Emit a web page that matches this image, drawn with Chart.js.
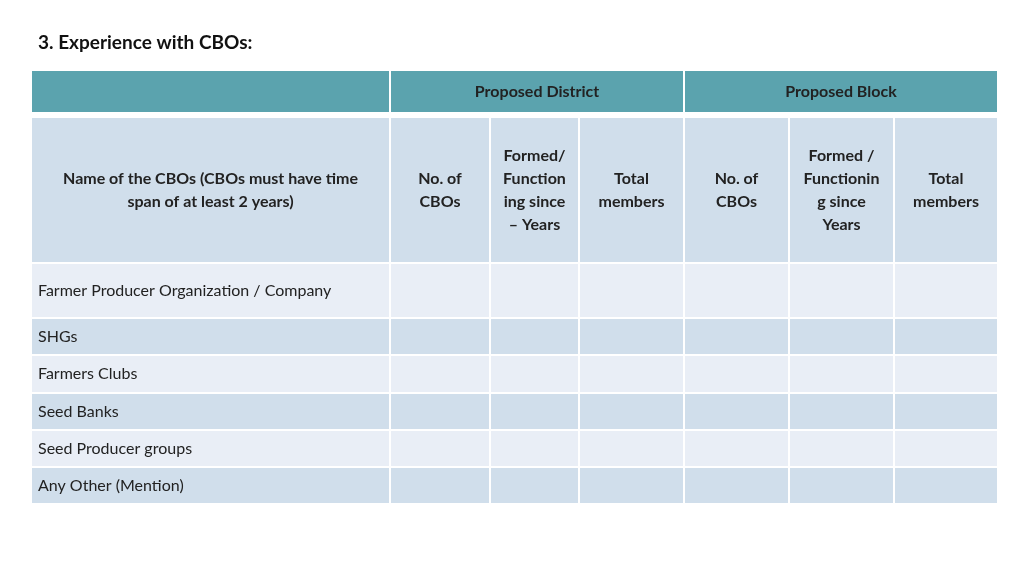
<!DOCTYPE html>
<html><head><meta charset="utf-8">
<script src="https://cdn.jsdelivr.net/npm/chart.js@4"></script>
<style>html,body{margin:0;padding:0;background:#fff}#w{width:1024px;height:576px}</style>
</head><body><div id="w"><canvas id="c"></canvas></div>
<script>
const title = "3. Experience with CBOs:";
const groupHeaders = ["", "Proposed District", "Proposed Block"];
const columnHeaders = [
  ["Name of the CBOs (CBOs must have time", "span of at least 2 years)"],
  ["No. of", "CBOs"],
  ["Formed/", "Function", "ing since", "\u2013 Years"],
  ["Total", "members"],
  ["No. of", "CBOs"],
  ["Formed /", "Functionin", "g since", "Years"],
  ["Total", "members"]
];
const rowLabels = ["Farmer Producer Organization / Company", "SHGs", "Farmers Clubs", "Seed Banks", "Seed Producer groups", "Any Other (Mention)"];
const rowValues = [
  ["", "", "", "", "", ""], ["", "", "", "", "", ""], ["", "", "", "", "", ""],
  ["", "", "", "", "", ""], ["", "", "", "", "", ""], ["", "", "", "", "", ""]
];

// layout (axis units = pixels)
const colEdges = [31, 390, 490, 579, 684, 789, 894, 998];
const groupSpans = [[0,1],[1,4],[4,7]];
const rowEdges = [70, 113, 117, 263, 318, 355, 393, 430, 467, 504];
const C = {teal:"#5BA3AE", head:"#D0DEEB", light:"#E9EEF6", dark:"#D0DEEB", text:"#222"};
const FONT = "Lato, 'Open Sans', sans-serif";

const tablePlugin = {
  id: "table",
  afterDraw(chart) {
    const ctx = chart.ctx, X = v => chart.scales.x.getPixelForValue(v), Y = v => chart.scales.y.getPixelForValue(v);
    const cell = (x0,x1,y0,y1,fill) => {
      ctx.fillStyle = fill;
      ctx.fillRect(X(x0), Y(y0), X(x1)-X(x0), Y(y1)-Y(y0));
      ctx.strokeStyle = "#fff"; ctx.lineWidth = 2;
      ctx.strokeRect(X(x0), Y(y0), X(x1)-X(x0), Y(y1)-Y(y0));
    };
    ctx.save();
    ctx.fillStyle = "#111"; ctx.font = "bold 19px " + FONT; ctx.textBaseline = "middle"; ctx.textAlign = "left";
    ctx.fillText(title, X(38), Y(43));
    // group header
    groupSpans.forEach((s, i) => {
      cell(colEdges[s[0]], colEdges[s[1]], rowEdges[0], rowEdges[1], C.teal);
      ctx.fillStyle = "#222"; ctx.font = "bold 16px " + FONT; ctx.textAlign = "center";
      ctx.fillText(groupHeaders[i], (X(colEdges[s[0]]) + X(colEdges[s[1]])) / 2, (Y(rowEdges[0]) + Y(rowEdges[1])) / 2);
    });
    // column headers
    columnHeaders.forEach((lines, i) => {
      cell(colEdges[i], colEdges[i+1], rowEdges[2], rowEdges[3], C.head);
      ctx.fillStyle = C.text; ctx.font = "bold 16px " + FONT; ctx.textAlign = "center";
      const cx = (X(colEdges[i]) + X(colEdges[i+1])) / 2, cy = (Y(rowEdges[2]) + Y(rowEdges[3])) / 2;
      lines.forEach((t, k) => ctx.fillText(t, cx, cy + (k - (lines.length - 1) / 2) * 23));
    });
    // body rows
    rowLabels.forEach((lab, r) => {
      const y0 = rowEdges[3 + r], y1 = rowEdges[4 + r], fill = r % 2 === 0 ? C.light : C.dark;
      for (let i = 0; i < 7; i++) cell(colEdges[i], colEdges[i+1], y0, y1, fill);
      ctx.fillStyle = C.text; ctx.font = "16px " + FONT; ctx.textAlign = "left";
      ctx.fillText(lab, X(38), (Y(y0) + Y(y1)) / 2);
      ctx.textAlign = "center";
      rowValues[r].forEach((v, i) => ctx.fillText(v, (X(colEdges[i+1]) + X(colEdges[i+2])) / 2, (Y(y0) + Y(y1)) / 2));
    });
    ctx.restore();
  }
};

new Chart(document.getElementById("c"), {
  type: "scatter",
  data: { datasets: [{ data: [] }] },
  options: {
    responsive: true, maintainAspectRatio: false, animation: false,
    layout: { padding: 0 },
    plugins: { legend: { display: false }, tooltip: { enabled: false } },
    scales: {
      x: { type: "linear", min: 0, max: 1024, display: false },
      y: { type: "linear", min: 0, max: 576, reverse: true, display: false }
    }
  },
  plugins: [tablePlugin]
});
</script></body></html>
